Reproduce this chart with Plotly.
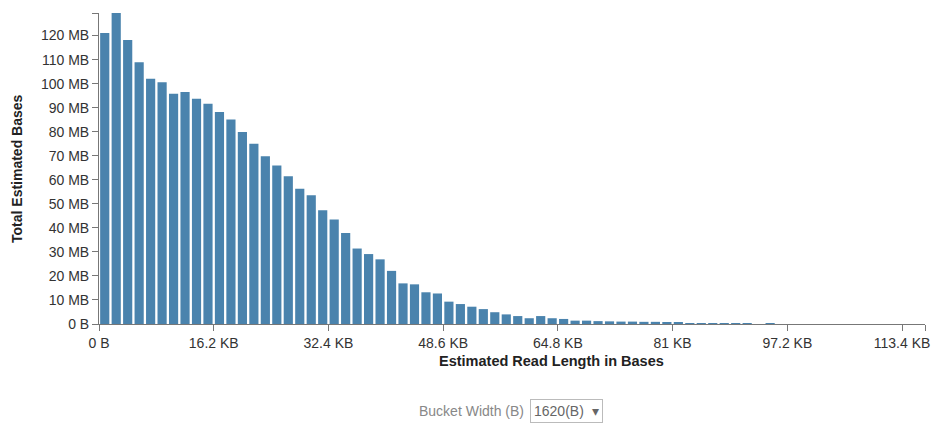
import plotly.graph_objects as go

bucket_width = 1620  # bytes
# Total estimated bases per bucket, in MB (bucket i covers [i*1620, (i+1)*1620))
values_mb = [
    121.1, 129.4, 118.2, 108.9, 102.0, 100.6, 95.8, 96.5, 93.7, 91.6,
    88.2, 85.1, 79.9, 75.0, 69.8, 66.0, 61.5, 56.3, 53.6, 47.3,
    43.5, 37.9, 31.4, 29.1, 26.9, 22.1, 16.9, 16.5, 13.2, 12.7,
    9.3, 8.3, 7.2, 6.2, 4.9, 4.0, 3.3, 2.4, 3.3, 2.4,
    2.1, 1.4, 1.4, 1.2, 1.1, 1.0, 1.0, 0.9, 0.9, 0.8,
    0.5, 0.4, 0.3, 0.15, 0.1, 0.1, 0.05, 0.0, 0.05, 0.0,
    0.0, 0.0, 0.0, 0.0, 0.0, 0.0, 0.0, 0.0, 0.0, 0.0,
    0.0, 0.0,
]
x_tick_vals = [0, 16200, 32400, 48600, 64800, 81000, 97200, 113400]
x_tick_labels = ["0 B", "16.2 KB", "32.4 KB", "48.6 KB", "64.8 KB", "81 KB", "97.2 KB", "113.4 KB"]
y_tick_vals = [0, 10, 20, 30, 40, 50, 60, 70, 80, 90, 100, 110, 120]
y_tick_labels = ["0 B"] + [f"{v} MB" for v in y_tick_vals[1:]]

x_centers = [(i + 0.5) * bucket_width for i in range(len(values_mb))]
x_max = len(values_mb) * bucket_width
y_max = max(values_mb)

font = "Liberation Sans, Arial, sans-serif"

W, H = 934, 424
ml, mr, mt, mb = 99, 9, 13, 100
pw, ph = W - ml - mr, H - mt - mb


def px_x(x):  # page pixel -> paper x
    return (x - ml) / pw


def px_y(y):  # page pixel -> paper y
    return (H - mb - y) / ph


fig = go.Figure()
fig.add_trace(go.Bar(
    x=x_centers, y=values_mb, width=bucket_width * 0.8,
    marker=dict(color="#4a83ad", line=dict(width=0)),
    hoverinfo="skip",
))

fig.update_layout(
    width=W, height=H,
    margin=dict(l=ml, r=mr, t=mt, b=mb, autoexpand=False),
    paper_bgcolor="white", plot_bgcolor="white",
    showlegend=False,
    font=dict(family=font, size=14, color="#333"),
    xaxis=dict(
        range=[0, x_max], tickmode="array",
        tickvals=x_tick_vals + [x_max], ticktext=x_tick_labels + [""],
        showgrid=False, zeroline=False, showline=True, linecolor="#777", linewidth=1,
        ticks="outside", ticklen=6, tickcolor="#777", automargin=False,
        tickfont=dict(family=font, size=14, color="#333"),
    ),
    yaxis=dict(
        range=[0, y_max], tickmode="array",
        tickvals=y_tick_vals + [y_max], ticktext=y_tick_labels + [""],
        showgrid=False, zeroline=False, showline=True, linecolor="#777", linewidth=1,
        ticks="outside", ticklen=6, tickcolor="#777", automargin=False,
        tickfont=dict(family=font, size=14, color="#333"),
    ),
    annotations=[
        dict(text="<b>Estimated Read Length in Bases</b>", xref="paper", yref="paper",
             x=px_x(551), y=px_y(361), showarrow=False, xanchor="center", yanchor="middle",
             font=dict(family=font, size=14.5, color="#222")),
        dict(text="<b>Total Estimated Bases</b>", xref="paper", yref="paper",
             x=px_x(17), y=px_y(169), showarrow=False, textangle=-90, xanchor="center", yanchor="middle",
             font=dict(family=font, size=14, color="#222")),
        dict(text="Bucket Width (B)", xref="paper", yref="paper",
             x=px_x(471), y=px_y(411), showarrow=False, xanchor="center", yanchor="middle",
             font=dict(family=font, size=14, color="#888")),
        dict(text="1620(B)  ▾", xref="paper", yref="paper",
             x=px_x(566), y=px_y(411), showarrow=False, xanchor="center", yanchor="middle",
             bordercolor="#bbb", borderwidth=1, borderpad=3, bgcolor="white",
             font=dict(family=font, size=14, color="#666")),
    ],
)

fig.write_html("out.html", config={"displayModeBar": False},
               post_script="document.body.style.margin='0';")
